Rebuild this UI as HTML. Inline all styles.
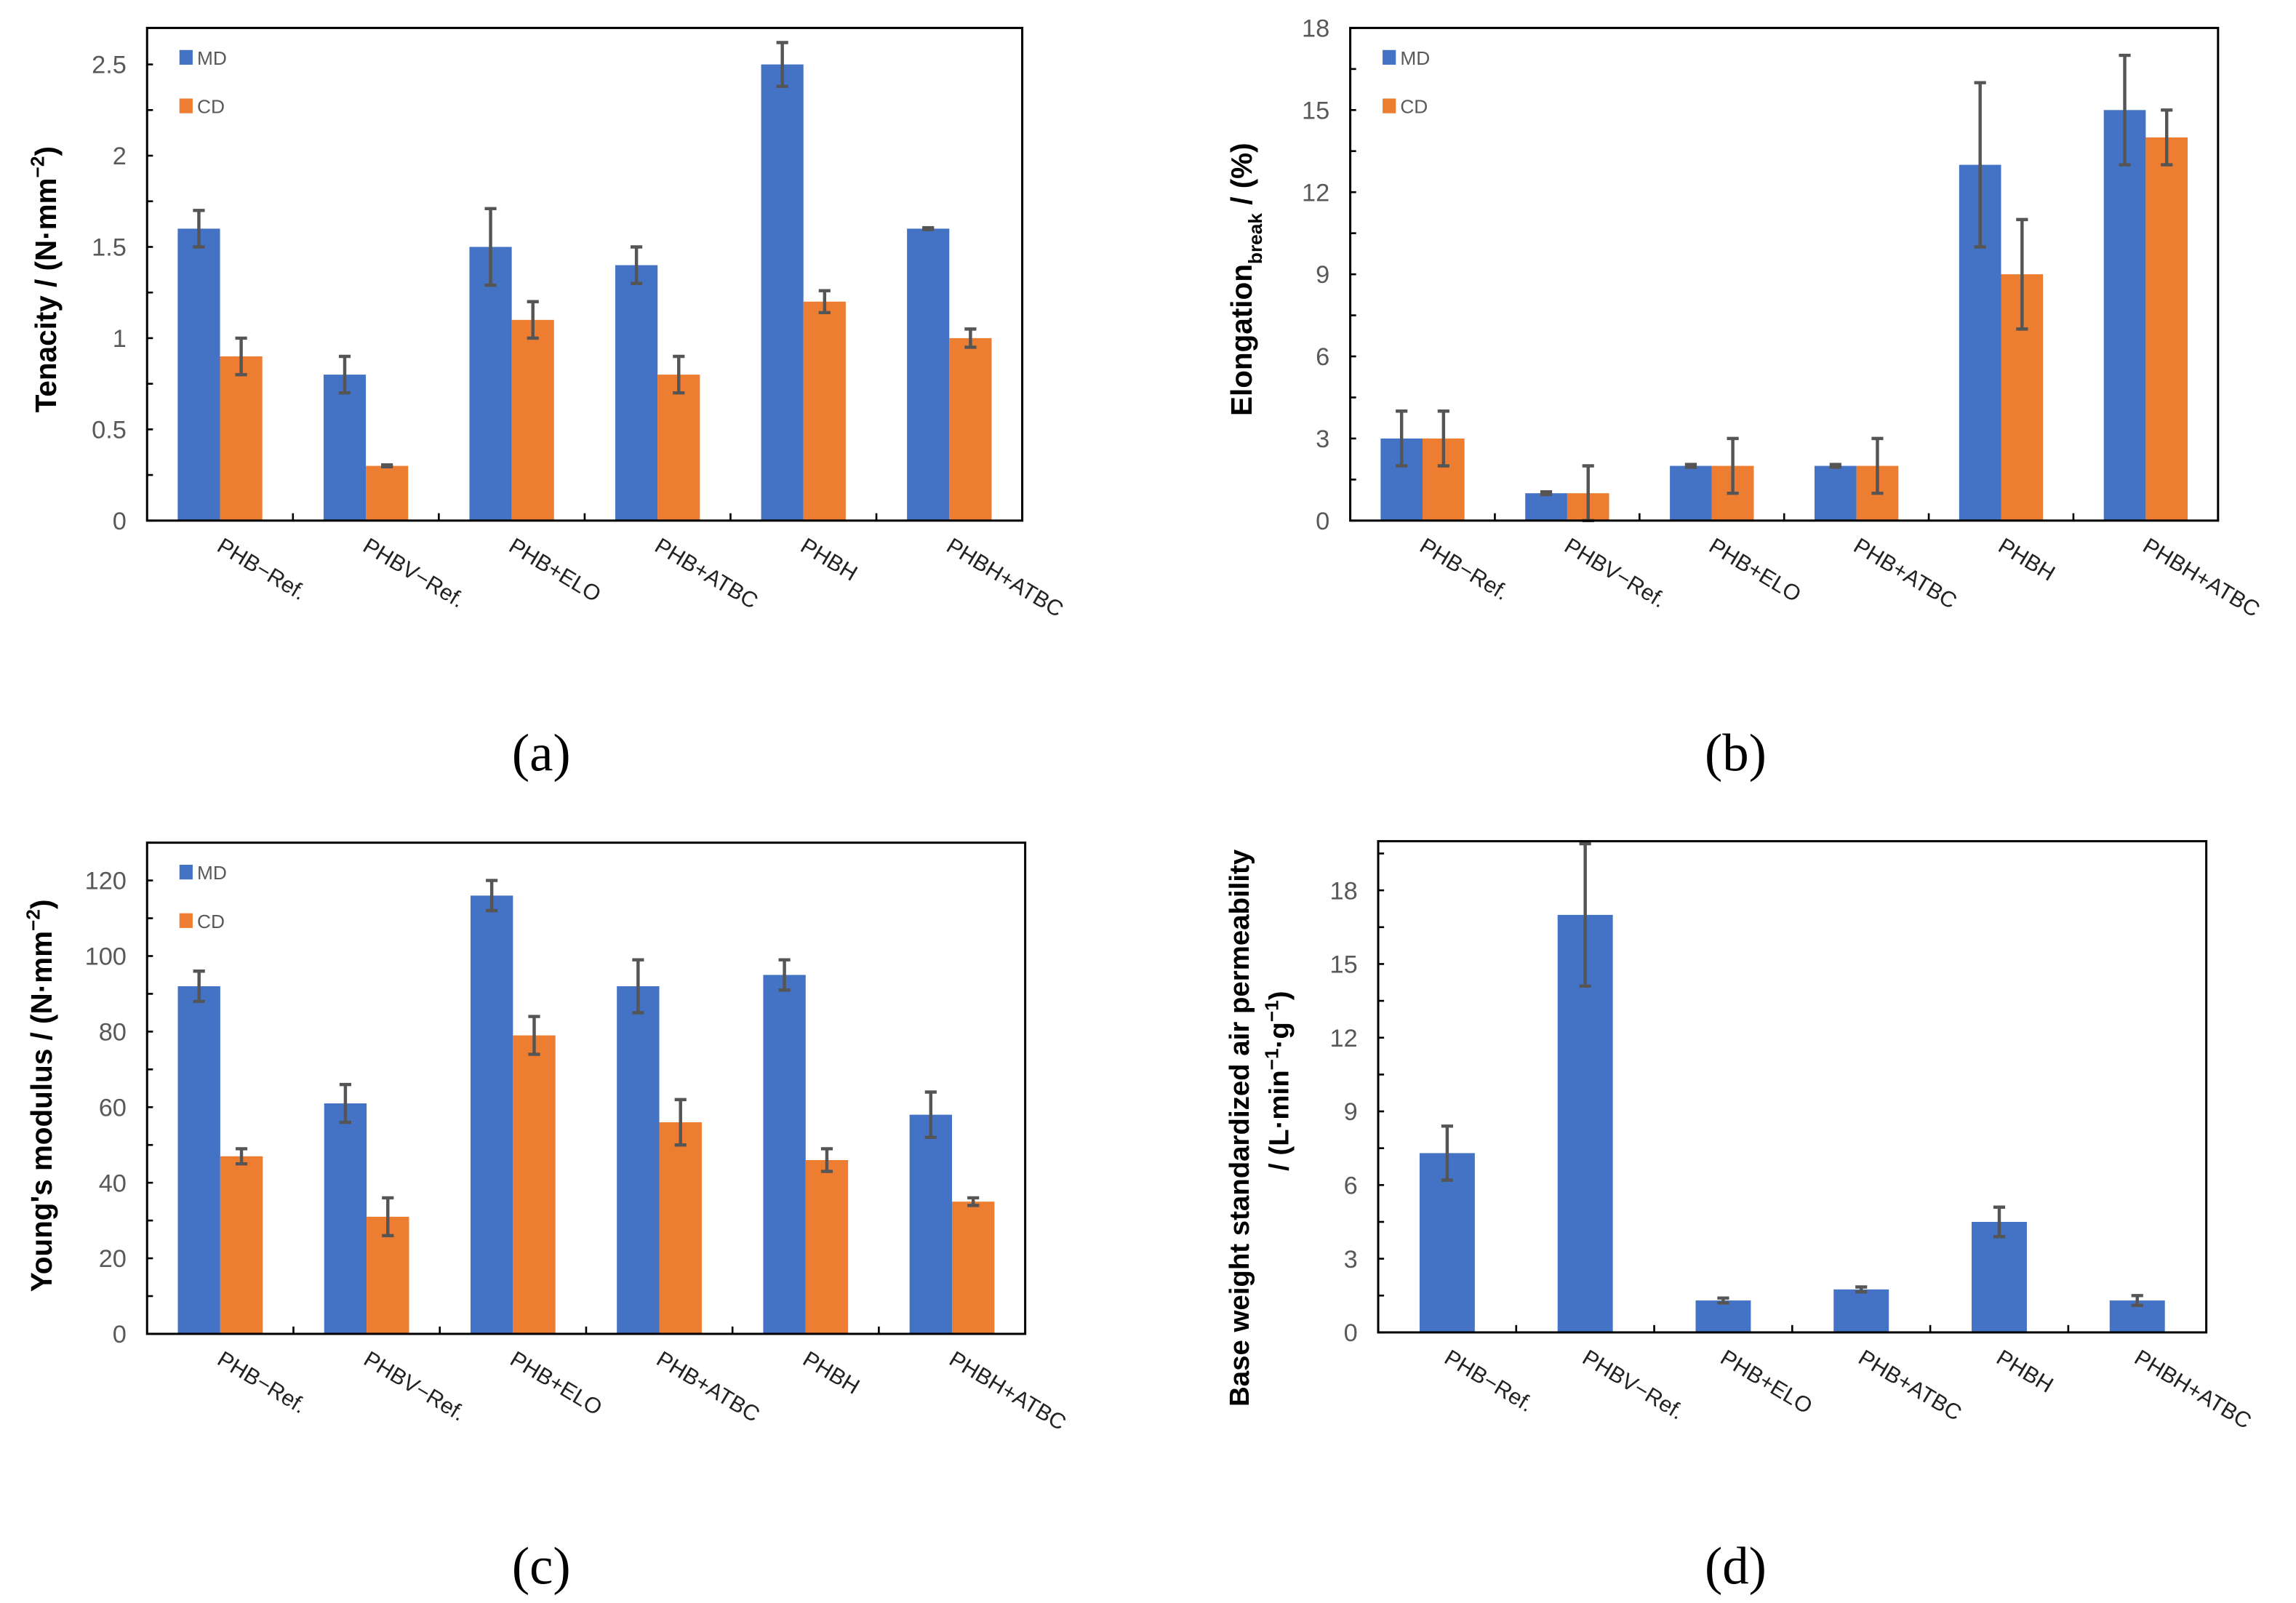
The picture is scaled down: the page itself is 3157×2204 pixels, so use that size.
<!DOCTYPE html>
<html><head><meta charset="utf-8">
<style>
html,body{margin:0;padding:0;background:#fff;}
svg{display:block;}
text{font-family:"Liberation Sans","DejaVu Sans",sans-serif;}
</style></head>
<body>
<svg id="fig" width="3157" height="2204" viewBox="0 0 1561 1090" preserveAspectRatio="none" xmlns="http://www.w3.org/2000/svg"></svg>
<script>
const categories = ["PHB\u2212Ref.","PHBV\u2212Ref.","PHB+ELO","PHB+ATBC","PHBH","PHBH+ATBC"];
const aMD = [1.6,0.8,1.5,1.4,2.5,1.6];
const aMDerr = [0.1,0.1,0.21,0.1,0.12,0.005];
const aCD = [0.9,0.3,1.1,0.8,1.2,1.0];
const aCDerr = [0.1,0.005,0.1,0.1,0.06,0.05];
const aTicks = ["0","0.5","1","1.5","2","2.5"];
const bMD = [3,1,2,2,13,15];
const bMDerr = [1,0.05,0.05,0.05,3,2];
const bCD = [3,1,2,2,9,14];
const bCDerr = [1,1,1,1,2,1];
const bTicks = ["0","3","6","9","12","15","18"];
const cMD = [92,61,116,92,95,58];
const cMDerr = [4,5,4,7,4,6];
const cCD = [47,31,79,56,46,35];
const cCDerr = [2,5,5,6,3,1];
const cTicks = ["0","20","40","60","80","100","120"];
const dVal = [7.3,17,1.3,1.75,4.5,1.3];
const dErr = [1.1,2.9,0.1,0.1,0.6,0.2];
const dTicks = ["0","3","6","9","12","15","18"];

const NS="http://www.w3.org/2000/svg";
const svg=document.getElementById('fig');
function mk(tag,attrs,parent){const e=document.createElementNS(NS,tag);for(const k in attrs)e.setAttribute(k,attrs[k]);(parent||svg).appendChild(e);return e;}
const BLUE="#4472C4",ORANGE="#ED7D31",EC="#595959";

function panel(cfg){
  const g=mk('g',{});
  
  
  const {x0,x1,y0,y1,max,minor}=cfg;
  const ys=v=>y1-(v/max)*(y1-y0);
  const cw=(x1-x0)/categories.length;
  for(let v=0;v<=max+1e-9;v+=minor){
    const t=mk('line',{x1:x0,x2:x0+4,y1:ys(v),y2:ys(v),stroke:"#000","stroke-width":1.3},g);
    
    
  }
  cfg.ticks.forEach(s=>{
    const v=parseFloat(s);
    const t=mk('text',{x:x0-14,y:ys(v)+6,'text-anchor':'end','font-size':17,fill:EC},g);
    t.textContent=s;
    
    
  });
  cfg.series.forEach((s,si)=>{
    s.vals.forEach((v,i)=>{
      const cx=x0+cw*(i+0.5);
      const bx=cx+s.off*cw;
      const bw=s.w*cw;
      const r=mk('rect',{x:bx,y:ys(v),width:bw,height:y1-ys(v),fill:s.color},g);
      
      
      const mx=bx+bw/2,e=s.err[i];
      const eg=mk('g',{stroke:"#555","stroke-width":2.2},g);
      
      
      mk('line',{x1:mx,x2:mx,y1:ys(v+e),y2:ys(v-e)},eg);
      mk('line',{x1:mx-4,x2:mx+4,y1:ys(v+e),y2:ys(v+e)},eg);
      mk('line',{x1:mx-4,x2:mx+4,y1:ys(v-e),y2:ys(v-e)},eg);
    });
  });
  const f=mk('rect',{x:x0,y:y0,width:x1-x0,height:y1-y0,fill:"none",stroke:"#000","stroke-width":1.5},g);
  
  
  for(let i=1;i<categories.length;i++){
    const t=mk('line',{x1:x0+cw*i,x2:x0+cw*i,y1:y1,y2:y1-5,stroke:"#000","stroke-width":1.3},g);
    
    
  }
  categories.forEach((c,i)=>{
    const lx=x0+cw*(i+0.5)-3,ly=y1+20;
    const t=mk('text',{x:lx,y:ly,'font-size':15,fill:"#222",transform:`rotate(31 ${lx} ${ly})`},g);
    t.textContent=c;
    
    
  });
  if(cfg.legend){
    cfg.series.forEach((s,si)=>{
      const ly=y0+20+si*33;
      const r=mk('rect',{x:x0+22,y:ly-5,width:9,height:10,fill:s.color},g);
      
      
      const t=mk('text',{x:x0+34,y:ly+5,'font-size':13,fill:EC},g);
      t.textContent=s.key.toUpperCase();
      
      
    });
  }
  cfg.ytitle(g);
  const p=mk('text',{x:cfg.labx,y:cfg.laby,'text-anchor':'middle',fill:"#000",style:'font-family:"Liberation Serif",serif;font-size:36px'},g);
  p.textContent=cfg.label;
  
  
}
function ytitle(g,x,y,html,size){
  const t=mk('text',{x:x,y:y,'text-anchor':'middle','font-size':size||20,'font-weight':'bold',fill:"#000",transform:`rotate(-90 ${x} ${y})`},g);
  t.innerHTML=html;
  
  
}
panel({name:'panel-a-tenacity',x0:100,x1:695,y0:19,y1:354,max:2.7,minor:0.25,ticks:aTicks,legend:true,
  series:[{key:'md',vals:aMD,err:aMDerr,color:BLUE,off:-0.29,w:0.29},{key:'cd',vals:aCD,err:aCDerr,color:ORANGE,off:0,w:0.29}],
  ytitle:g=>ytitle(g,38,190,'Tenacity / (N·mm<tspan dy="-8" font-size="13">−2</tspan><tspan dy="8">)</tspan>'),
  label:'(a)',labx:368,laby:524});
panel({name:'panel-b-elongation',x0:918,x1:1508,y0:19,y1:354,max:18,minor:1.5,ticks:bTicks,legend:true,
  series:[{key:'md',vals:bMD,err:bMDerr,color:BLUE,off:-0.29,w:0.29},{key:'cd',vals:bCD,err:bCDerr,color:ORANGE,off:0,w:0.29}],
  ytitle:g=>ytitle(g,851,190,'Elongation<tspan dy="7" font-size="13">break</tspan><tspan dy="-7"> / (%)</tspan>'),
  label:'(b)',labx:1180,laby:524});
panel({name:'panel-c-youngs-modulus',x0:100,x1:697,y0:573,y1:907,max:130,minor:10,ticks:cTicks,legend:true,
  series:[{key:'md',vals:cMD,err:cMDerr,color:BLUE,off:-0.29,w:0.29},{key:'cd',vals:cCD,err:cCDerr,color:ORANGE,off:0,w:0.29}],
  ytitle:g=>ytitle(g,35,745,'Young\'s modulus / (N·mm<tspan dy="-8" font-size="13">−2</tspan><tspan dy="8">)</tspan>'),
  label:'(c)',labx:368,laby:1077});
panel({name:'panel-d-air-permeability',x0:937,x1:1500,y0:572,y1:906,max:20,minor:1.5,ticks:dTicks,legend:false,
  series:[{key:'md',vals:dVal,err:dErr,color:BLUE,off:-0.2,w:0.4}],
  ytitle:g=>{ytitle(g,849,767,'Base weight standardized air permeability',19);
             ytitle(g,876,735,'/ (L·min<tspan dy="-7" font-size="13">−1</tspan><tspan dy="7">·g</tspan><tspan dy="-7" font-size="13">−1</tspan><tspan dy="7">)</tspan>',19);},
  label:'(d)',labx:1180,laby:1077});
</script>
</body></html>
